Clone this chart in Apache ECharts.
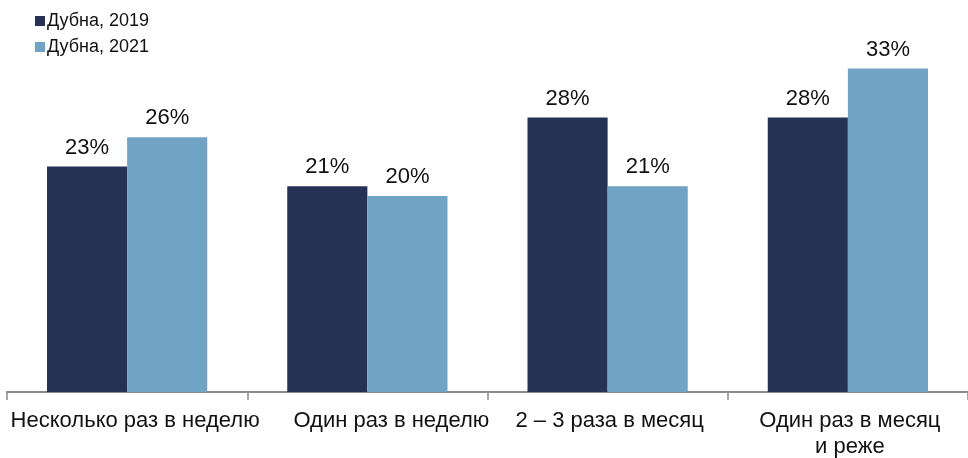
<!DOCTYPE html>
<html>
<head>
<meta charset="utf-8">
<script src="https://cdn.jsdelivr.net/npm/echarts@6/dist/echarts.min.js"></script>
<style>
  html, body { margin: 0; padding: 0; background: #fff; }
  #chart { width: 968px; height: 458px; }
</style>
</head>
<body>
<div id="chart"></div>
<script>
const categories = ['Несколько раз в неделю', 'Один раз в неделю', '2 – 3 раза в месяц', 'Один раз в месяц\nи реже']
const values2019 = [23, 21, 28, 28]
const values2021 = [26, 20, 21, 33]
const seriesNames = ['Дубна, 2019', 'Дубна, 2021']

const chart = echarts.init(document.getElementById('chart'))
const font = 'Liberation Sans'
// small horizontal nudges of the category labels (px, to the right)
const labelShift = [8, 24, 2, 2]

const labelStyle = {
  show: true,
  position: 'top',
  distance: 8,
  fontFamily: font,
  fontSize: 22,
  color: '#111',
  formatter: '{c}%'
}

chart.setOption({
  animation: false,
  textStyle: { fontFamily: font },
  legend: {
    orient: 'vertical',
    left: 30,
    top: 7,
    itemWidth: 10,
    itemHeight: 10,
    itemGap: 8,
    icon: 'rect',
    textStyle: { fontFamily: font, fontSize: 18, color: '#111', padding: [0, 0, 0, -3] },
    data: seriesNames
  },
  grid: { left: 7, right: 0, top: 0, bottom: 66, outerBoundsMode: 'none', containLabel: false },
  xAxis: {
    type: 'category',
    data: categories.map((c, i) => ({
      value: c,
      textStyle: { padding: [0, 0, 0, labelShift[i] * 2] }
    })),
    axisLine: { lineStyle: { color: '#8c8c8c', width: 2 } },
    axisTick: { show: true, length: 8, lineStyle: { color: '#8c8c8c', width: 1.5 } },
    axisLabel: {
      fontFamily: font,
      fontSize: 22,
      color: '#111',
      margin: 16,
      lineHeight: 26,
      interval: 0
    }
  },
  yAxis: {
    type: 'value',
    min: 0,
    max: 40,
    show: false
  },
  series: [
    {
      name: seriesNames[0],
      type: 'bar',
      data: values2019,
      barGap: '0%',
      barCategoryGap: '33.3%',
      itemStyle: { color: '#253256' },
      label: labelStyle
    },
    {
      name: seriesNames[1],
      type: 'bar',
      data: values2021,
      barGap: '0%',
      barCategoryGap: '33.3%',
      itemStyle: { color: '#71a3c4' },
      label: labelStyle
    }
  ]
})
</script>
</body>
</html>
